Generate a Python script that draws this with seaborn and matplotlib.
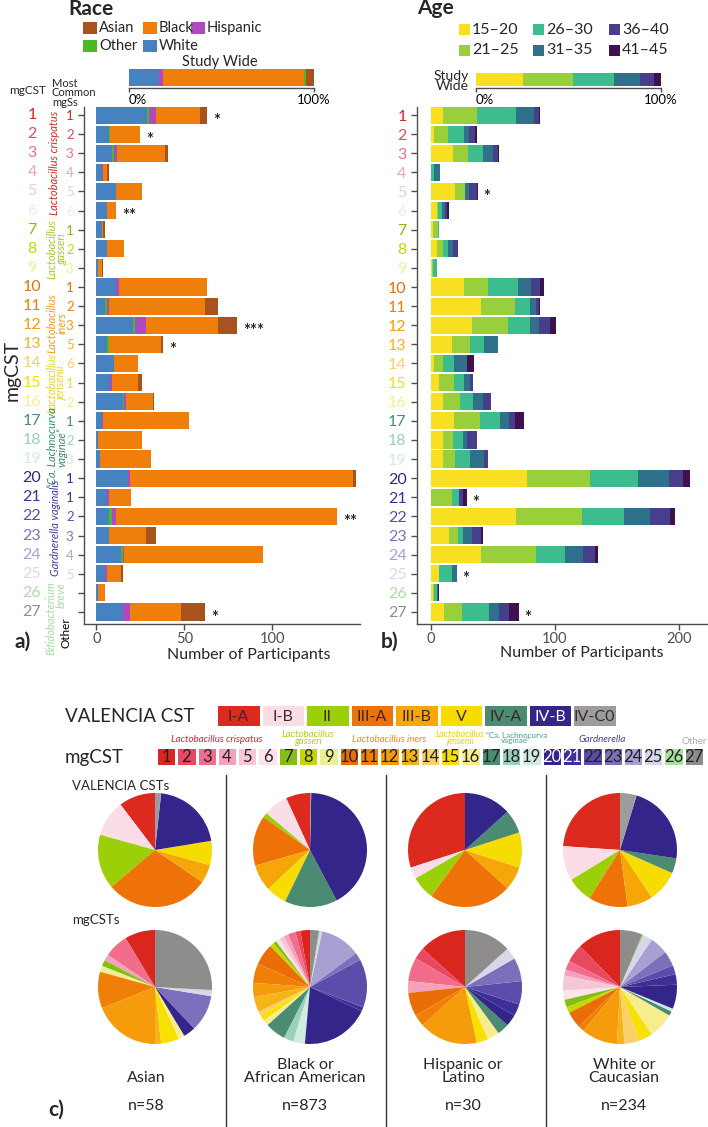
import matplotlib
matplotlib.use('Agg')
import matplotlib.pyplot as plt
from matplotlib.patches import Rectangle
from matplotlib.lines import Line2D
from matplotlib.colors import ListedColormap
from matplotlib.transforms import blended_transform_factory
import numpy as np
import seaborn as sns

# ---------------- data ----------------
mgcst_ids = list(range(1, 28))
mgss_labels = ['1', '2', '3', '4', '5', '6', '1', '2', '3', '1', '2', '3', '5', '6',
               '1', '2', '1', '2', '3', '1', '1', '2', '3', '4', '5', '', '']
mgcst_colors = ['#D9261F', '#E84860', '#F26D8C', '#F4A2BC', '#F6C7D8', '#FCE3EA',
                '#84BD13', '#C3D800', '#EDEF95', '#EA6E08', '#EF7F06', '#F59B0C',
                '#F5B41A', '#FAD068', '#F8E000', '#F8ED8E', '#4A8B72', '#9BD0BB',
                '#D0EBE0', '#33258A', '#3E2E98', '#5C4DAA', '#7D6FBB', '#A7A0D2',
                '#D8D6E9', '#A9DFA1', '#8F8D8C']

race_names = ['Asian', 'Black', 'Hispanic', 'Other', 'White']
race_color_map = {'Asian': '#A8521E', 'Black': '#F07E0B', 'Hispanic': '#B048C0',
                  'Other': '#4CB826', 'White': '#4682C0'}
race_white = [29, 7, 9, 3, 11, 6, 3, 6, 1, 11, 5, 21, 6, 10, 8, 15, 3, 1, 2, 18, 6, 7, 7, 14, 5, 1, 15]
race_other = [1, 1, 1, 0, 0, 0, 0, 0, 0, 0, 1, 1, 1, 0, 0, 1, 0, 0, 0, 0, 0, 2, 0, 1, 0, 0, 0]
race_hispanic = [4, 0, 2, 1, 0, 0, 0, 0, 0, 2, 1, 6, 0, 0, 1, 1, 1, 0, 0, 1, 1, 2, 0, 1, 1, 0, 4]
race_black = [25, 17, 27, 2, 15, 5, 1, 10, 2, 50, 55, 41, 30, 14, 15, 15, 49, 25, 29, 127, 13, 126, 21, 79, 8, 4, 29]
race_asian = [4, 0, 2, 1, 0, 0, 1, 0, 1, 0, 7, 11, 1, 0, 2, 1, 0, 0, 0, 2, 0, 0, 6, 0, 1, 0, 14]
race_stars = ['*', '*', '', '', '', '**', '', '', '', '', '', '***', '*', '', '', '', '', '',
              '', '', '', '**', '', '', '', '', '*']
# study wide (percent), in the drawn order
race_study_order = ['White', 'Hispanic', 'Black', 'Other', 'Asian']
race_study_pct = [16.2, 2.0, 76.6, 0.9, 4.3]

age_names = ['15\u201320', '21\u201325', '26\u201330', '31\u201335', '36\u201340', '41\u201345']
age_colors = ['#F8DF22', '#9ACF3C', '#3DBC8D', '#2F708B', '#46408C', '#40114F']
age_15_20 = [10, 3, 18, 0, 20, 5, 2, 5, 1, 27, 41, 33, 17, 3, 7, 10, 19, 10, 10, 78, 0, 69, 15, 41, 7, 2, 11]
age_21_25 = [27, 11, 12, 0, 8, 1, 4, 5, 1, 19, 27, 29, 15, 7, 12, 14, 21, 8, 10, 50, 17, 53, 7, 44, 0, 1, 14]
age_26_30 = [32, 13, 12, 3, 0, 3, 1, 4, 3, 24, 12, 18, 11, 9, 8, 10, 16, 8, 12, 39, 6, 34, 4, 23, 10, 2, 22]
age_31_35 = [14, 4, 8, 5, 3, 3, 0, 4, 0, 11, 5, 7, 11, 10, 5, 8, 7, 3, 11, 25, 0, 21, 7, 15, 4, 1, 8]
age_36_40 = [4, 5, 4, 0, 6, 1, 0, 4, 0, 7, 2, 9, 0, 0, 2, 7, 5, 8, 3, 11, 3, 16, 8, 9, 0, 0, 8]
age_41_45 = [1, 1, 1, 0, 1, 2, 0, 0, 0, 3, 1, 5, 0, 6, 0, 0, 7, 0, 0, 6, 3, 4, 1, 3, 0, 1, 8]
age_stars = ['', '', '', '', '*', '', '', '', '', '', '', '', '', '', '', '', '', '', '',
             '', '*', '', '', '', '*', '', '*']
age_study_pct = [25.4, 26.8, 22.5, 13.7, 7.9, 3.7]

valencia_labels = ['I-A', 'I-B', 'II', 'III-A', 'III-B', 'V', 'IV-A', 'IV-B', 'IV-C0']
valencia_colors = ['#DC2A1E', '#FADDE6', '#9BD009', '#EE7207', '#F6A707', '#F6DC00',
                   '#4A8B72', '#33258A', '#9C9C9E']
groups = ['Asian', 'Black or\nAfrican American', 'Hispanic or\nLatino', 'White or\nCaucasian']
group_n = [58, 873, 30, 234]
valencia_asian = [6, 6, 9, 17, 3, 4, 0, 12, 1]
valencia_black = [60, 61, 12, 124, 66, 51, 130, 366, 3]
valencia_hispanic = [9, 1, 2, 7, 2, 3, 2, 4, 0]
valencia_white = [56, 23, 17, 26, 17, 21, 10, 53, 11]
mgcst_asian = [5, 0, 4, 1, 0, 0, 1, 0, 1, 0, 6, 11, 1, 0, 3, 1, 0, 0, 0, 2, 0, 0, 6, 0, 1, 0, 15]
mgcst_black = [24, 12, 19, 12, 12, 10, 8, 10, 0, 53, 48, 35, 38, 10, 15, 14, 51, 24, 29, 170, 10,
               120, 19, 100, 5, 3, 22]
mgcst_hispanic = [4, 1, 2, 1, 0, 0, 0, 0, 0, 2, 1, 5, 0, 0, 1, 1, 1, 0, 0, 1, 1, 2, 2, 0, 1, 0, 4]
mgcst_white = [29, 12, 6, 4, 10, 6, 5, 4, 0, 11, 4, 24, 5, 10, 9, 17, 3, 0, 2, 16, 7, 6, 10, 12,
               6, 1, 15]

# species groups in panel a: (label, centre row index, colour)
species_rows = [('Lactobacillus crispatus', 2.5, '#D9261F'),
                ('Lactobacillus\ngasseri', 7.0, '#A9C81E'),
                ('Lactobacillus\niners', 10.9, '#F29A14'),
                ('Lactobacillus\njensenii', 14.0, '#E9D21A'),
                ('\u201cCa. Lachnocurva\nvaginae\u201d', 17.4, '#3C8C6E'),
                ('Gardnerella vaginalis', 21.6, '#4A3A9A')]
# species labels over the mgCST strip: (label, centre cell position, colour, size)
species_strip = [('Lactobacillus crispatus', 3.0, '#D9261F', 7),
                 ('Lactobacillus\ngasseri', 7.5, '#B5CC1E', 7),
                 ('Lactobacillus iners', 11.5, '#F08A10', 7),
                 ('Lactobacillus\njensenii', 15.0, '#EFCF00', 6.5),
                 ('\u201cCa. Lachnocurva\nvaginae\u201d', 17.75, '#3FA08A', 5.8),
                 ('Gardnerella', 22.0, '#4A3A9A', 7),
                 ('Other', 26.5, '#A8A8A8', 7)]

# ---------------- helpers ----------------
W, H = 708, 1127


def fx(px):
    return px / W


def fy(py):
    return 1 - py / H


def axes_px(fig, x0, y0, x1, y1):
    return fig.add_axes([x0 / W, 1 - y1 / H, (x1 - x0) / W, (y1 - y0) / H])


def stacked_barh(ax, rows, parts, colors, height=0.9):
    cum = np.cumsum(np.array(parts, dtype=float), axis=0)
    for k in range(len(parts) - 1, -1, -1):
        sns.barplot(x=cum[k], y=rows, order=rows, orient='h', color=colors[k],
                    width=height, saturation=1, errorbar=None, linewidth=0, ax=ax)
    return cum[-1]


def style_axis(ax):
    for s in ['top', 'right']:
        ax.spines[s].set_visible(False)
    for s in ['left', 'bottom']:
        ax.spines[s].set_color('#4d4d4d')
        ax.spines[s].set_linewidth(1.0)
    ax.tick_params(axis='both', direction='out', length=4, width=1, color='#4d4d4d',
                   left=True, bottom=True)
    ax.tick_params(axis='x', labelsize=10.5, labelcolor='#4d4d4d', pad=2)
    ax.set_xlabel('')
    ax.set_ylabel('')


sns.set_theme(style='white')
plt.rcParams['font.family'] = ['Lato', 'DejaVu Sans']

fig = plt.figure(figsize=(W / 100, H / 100), dpi=100)
rows = [str(i) for i in mgcst_ids]
n_rows = len(rows)

# ================= panel a : race =================
fig.text(fx(68), fy(9), 'Race', fontsize=15, fontweight='bold', ha='left', va='center')
for k, name in enumerate(race_names):
    bx, by = [83, 143, 191][k % 3], [22, 40][k // 3]
    fig.add_artist(Rectangle((fx(bx), fy(by + 12)), 14 / W, 12 / H, transform=fig.transFigure,
                             color=race_color_map[name], lw=0))
    fig.text(fx(bx + 16), fy(by + 6), name, fontsize=10.5, ha='left', va='center')

ax_rs = axes_px(fig, 129, 69, 314, 88)
stacked_barh(ax_rs, ['Study Wide'], [[v] for v in race_study_pct],
             [race_color_map[n] for n in race_study_order], height=1.0)
ax_rs.set_xlim(0, 100)
ax_rs.set_ylim(0.62, -0.5)
style_axis(ax_rs)
ax_rs.spines['left'].set_visible(False)
ax_rs.set_yticks([])
ax_rs.set_xticks([0, 100])
ax_rs.set_xticklabels(['0%', '100%'])
ax_rs.tick_params(axis='x', length=3, labelsize=9.5, labelcolor='black', pad=1)
ax_rs.get_xticklabels()[0].set_ha('left')
fig.text(fx(220), fy(62), 'Study Wide', fontsize=10.5, ha='center', va='center')

ax_a = axes_px(fig, 84, 107, 360, 624)
race_parts = [race_white, race_other, race_hispanic, race_black, race_asian]
race_tot = stacked_barh(ax_a, rows, race_parts,
                        [race_color_map[n] for n in ['White', 'Other', 'Hispanic', 'Black', 'Asian']])
ax_a.set_xlim(-7, 150)
ax_a.set_ylim(n_rows - 1 + 0.63, -0.42)
style_axis(ax_a)
ax_a.set_xticks([0, 50, 100])
ax_a.set_yticks(range(n_rows))
ax_a.set_yticklabels(mgss_labels, fontsize=9.5)
for lab, c in zip(ax_a.get_yticklabels(), mgcst_colors):
    lab.set_color(c)
for i, s in enumerate(race_stars):
    if s:
        ax_a.text(race_tot[i] + 3.6, i + 0.3, s, fontsize=12, fontweight='bold',
                  ha='left', va='center')

tr_a = blended_transform_factory(fig.transFigure, ax_a.transData)
for i, m in enumerate(mgcst_ids):
    ax_a.text(fx(32), i, str(m), transform=tr_a, ha='center', va='center',
              fontsize=11.5, color=mgcst_colors[i], clip_on=False)
for lab, yc, c in species_rows:
    xpos = 55 if '\n' not in lab else 57
    ax_a.text(fx(xpos), yc, lab, transform=tr_a, rotation=90, ha='center',
              va='center', fontsize=8, style='italic', color=c, clip_on=False,
              linespacing=0.85)
ax_a.text(fx(51), 26.3, 'Bifidobacterium', transform=tr_a, rotation=90, ha='center',
          va='center', fontsize=8, style='italic', color='#A6DBA0', clip_on=False)
ax_a.text(fx(61), 25.1, 'breve', transform=tr_a, rotation=90, ha='center', va='center',
          fontsize=8, style='italic', color='#A6DBA0', clip_on=False)
ax_a.text(fx(66), 27.1, 'Other', transform=tr_a, rotation=90, ha='center', va='center',
          fontsize=8.5, color='black', clip_on=False)

fig.text(fx(28), fy(91), 'mgCST', fontsize=8.5, ha='center', va='center')
fig.text(fx(52), fy(93), 'Most\nCommon\nmgSs', fontsize=8, ha='left', va='center',
         linespacing=0.85)
fig.text(fx(12), fy(370), 'mgCST', fontsize=14, rotation=90, ha='center', va='center')
fig.text(fx(249), fy(655), 'Number of Participants', fontsize=11.5, ha='center', va='center')
fig.text(fx(23), fy(642), 'a)', fontsize=15, fontweight='bold', ha='center', va='center')

# ================= panel b : age =================
fig.text(fx(417), fy(8), 'Age', fontsize=15, fontweight='bold', ha='left', va='center')
for k, name in enumerate(age_names):
    bx, by = [459, 533, 609][k // 2], [24, 45][k % 2]
    fig.add_artist(Rectangle((fx(bx), fy(by + 11)), 11 / W, 11 / H, transform=fig.transFigure,
                             color=age_colors[k], lw=0))
    fig.text(fx(bx + 13), fy(by + 5.5), name, fontsize=11.5, ha='left', va='center')

ax_as = axes_px(fig, 476, 73, 661, 88)
stacked_barh(ax_as, ['Study Wide'], [[v] for v in age_study_pct], age_colors, height=1.0)
ax_as.set_xlim(0, 100)
ax_as.set_ylim(0.62, -0.5)
style_axis(ax_as)
ax_as.spines['left'].set_visible(False)
ax_as.set_yticks([])
ax_as.set_xticks([0, 100])
ax_as.set_xticklabels(['0%', '100%'])
ax_as.tick_params(axis='x', length=3, labelsize=9.5, labelcolor='black', pad=1)
ax_as.get_xticklabels()[0].set_ha('left')
fig.text(fx(469), fy(81), 'Study\nWide', fontsize=10, ha='right', va='center', linespacing=0.85)

ax_b = axes_px(fig, 417, 107, 707, 624)
age_parts = [age_15_20, age_21_25, age_26_30, age_31_35, age_36_40, age_41_45]
age_tot = stacked_barh(ax_b, rows, age_parts, age_colors)
ax_b.set_xlim(-10.9, 222.5)
ax_b.set_ylim(n_rows - 1 + 0.63, -0.42)
style_axis(ax_b)
ax_b.set_xticks([0, 100, 200])
ax_b.set_yticks(range(n_rows))
ax_b.set_yticklabels(rows, fontsize=11.5)
for lab, c in zip(ax_b.get_yticklabels(), mgcst_colors):
    lab.set_color(c)
for i, s in enumerate(age_stars):
    if s:
        ax_b.text(age_tot[i] + 4.5, i + 0.3, s, fontsize=12, fontweight='bold',
                  ha='left', va='center')
fig.text(fx(582), fy(653), 'Number of Participants', fontsize=11.5, ha='center', va='center')
fig.text(fx(390), fy(642), 'b)', fontsize=15, fontweight='bold', ha='center', va='center')

# ================= panel c : pies =================
fig.text(fx(65), fy(716), 'VALENCIA CST', fontsize=13.5, ha='left', va='center')
ax_v = axes_px(fig, 216, 704, 617, 727)
sns.heatmap(np.arange(len(valencia_labels))[None, :], cmap=ListedColormap(valencia_colors),
            vmin=-0.5, vmax=len(valencia_labels) - 0.5, cbar=False, linewidths=1,
            linecolor='white', xticklabels=False, yticklabels=False, ax=ax_v)
for i, lab in enumerate(valencia_labels):
    ax_v.text(i + 0.5, 0.55, lab, ha='center', va='center', fontsize=11.5,
              color='white' if lab == 'IV-B' else '#3a2a2a')

fig.text(fx(65), fy(758), 'mgCST', fontsize=13.5, ha='left', va='center')
ax_m = axes_px(fig, 156, 747, 704, 766)
sns.heatmap(np.arange(len(mgcst_ids))[None, :], cmap=ListedColormap(mgcst_colors),
            vmin=-0.5, vmax=len(mgcst_ids) - 0.5, cbar=False, linewidths=1,
            linecolor='white', xticklabels=False, yticklabels=False, ax=ax_m)
for i, m in enumerate(mgcst_ids):
    ax_m.text(i + 0.5, 0.55, str(m), ha='center', va='center', fontsize=12,
              color='white' if m in (20, 21) else '#222222')
tr_m = blended_transform_factory(ax_m.transData, fig.transFigure)
for lab, xc, c, fs in species_strip:
    ypos = 742 if lab == 'Other' else (738 if '\n' in lab else 740)
    italic = not (lab == 'Other' or 'Ca.' in lab)
    ax_m.text(xc, fy(ypos), lab, transform=tr_m, ha='center', va='center',
              fontsize=fs, style='italic' if italic else 'normal',
              color=c, linespacing=0.8, clip_on=False)

for xline in [226, 386, 546]:
    fig.add_artist(Line2D([fx(xline)] * 2, [fy(775), fy(1127)], color='#333333', lw=1.0))
fig.text(fx(72), fy(786), 'VALENCIA CSTs', fontsize=9.5, ha='left', va='center')
fig.text(fx(72), fy(920), 'mgCSTs', fontsize=9.5, ha='left', va='center')

pie_cx = [155, 310, 465, 620]
valencia_data = [valencia_asian, valencia_black, valencia_hispanic, valencia_white]
mgcst_data = [mgcst_asian, mgcst_black, mgcst_hispanic, mgcst_white]
r = 57
for gi, cx in enumerate(pie_cx):
    for cy, vals, cols in [(850, valencia_data[gi], valencia_colors),
                           (987, mgcst_data[gi], mgcst_colors)]:
        axp = axes_px(fig, cx - r, cy - r, cx + r, cy + r)
        axp.pie(vals, colors=cols, startangle=90, counterclock=True,
                wedgeprops=dict(linewidth=0))
        axp.set_xlim(-1, 1)
        axp.set_ylim(-1, 1)
    gx = [146, 305, 463, 624][gi]
    fig.text(fx(gx), fy(1085), groups[gi], fontsize=11.5, ha='center', va='bottom',
             linespacing=0.9)
    fig.text(fx(gx), fy(1106), f'n={group_n[gi]}', fontsize=11.5, ha='center', va='center')
fig.text(fx(56), fy(1110), 'c)', fontsize=15, fontweight='bold', ha='center', va='center')

fig.savefig('out.png', dpi=100)
